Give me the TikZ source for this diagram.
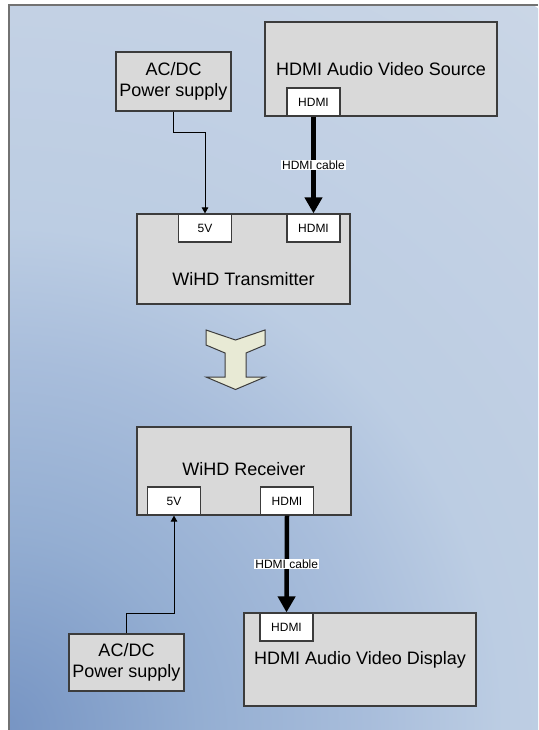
\documentclass[tikz,border=0pt]{standalone}
\usepackage{fontspec}
\setmainfont{Liberation Sans}
\usetikzlibrary{arrows.meta}

\definecolor{boxgrey}{HTML}{D9D9D9}
\definecolor{edgegrey}{HTML}{3C3C3C}
\definecolor{arrowfill}{HTML}{E8EAD5}
\definecolor{framegrey}{HTML}{727272}
\definecolor{bgA}{HTML}{7694C3}
\definecolor{bgB}{HTML}{94AED2}
\definecolor{bgC}{HTML}{A8BDDB}
\definecolor{bgD}{HTML}{BCCDE3}
\definecolor{bgE}{HTML}{C3D1E4}
\definecolor{bgF}{HTML}{CAD6E6}

\pgfdeclareradialshading{backdrop}{\pgfpointorigin}{%
    color(0bp)=(bgA); color(5.5bp)=(bgB); color(10.2bp)=(bgC);
    color(14bp)=(bgD); color(20bp)=(bgE); color(25bp)=(bgF); color(50bp)=(bgF)}

\tikzset{
    device/.style = {
        draw=edgegrey,
        fill=boxgrey,
        line width=1.2pt,
        font=\fontsize{18}{21.5}\selectfont,
        align=center,
        inner sep=0pt
    },
    devicetext/.style = {
        font=\fontsize{18}{21.5}\selectfont,
        inner sep=0pt
    },
    port/.style = {
        draw=edgegrey,
        fill=white,
        line width=1.2pt,
        minimum width=53pt,
        minimum height=28pt,
        font=\fontsize{12}{14}\selectfont,
        inner sep=0pt
    },
    power/.style = {
        line width=0.9pt,
        -{Triangle[length=6pt, width=6.5pt]}
    },
    cable/.style = {
        line width=4.5pt,
        -{Triangle[length=16pt, width=17pt]}
    },
    cablelabel/.style = {
        fill=white,
        inner sep=1pt,
        font=\fontsize{12}{14}\selectfont
    },
    bigarrow/.style = {
        draw=edgegrey,
        fill=arrowfill,
        line width=1pt,
        line join=miter
    },
    frame/.style = {
        draw=framegrey,
        line width=2pt
    }
}

\begin{document}
\begin{tikzpicture}[x=1pt, y=-1pt]
    \useasboundingbox (0,0) rectangle (538,730);

    % Draw background
    \begin{scope}
        \clip (9,5) rectangle (538,730);
        \shade[shading=backdrop] (0,730) circle (900pt);
    \end{scope}
    \draw[frame] (9,730) -- (9,5) -- (538,5);

    % Draw transmitter side
    \node[device, minimum width=115pt, minimum height=59pt] (supplyA) at (173.5,81.5) {AC/DC\\Power supply};
    \node[device, minimum width=232pt, minimum height=94pt] (source) at (381,69) {HDMI Audio Video Source};
    \node[port] (sourcehdmi) at (313.5,102) {HDMI};
    \node[device, minimum width=213pt, minimum height=90pt] (tx) at (243.5,259) {};
    \node[devicetext] (txtext) at (243.5,279) {WiHD Transmitter};
    \node[port] (tx5v) at (205,228) {5V};
    \node[port] (txhdmi) at (313.5,228) {HDMI};

    \draw[power] (supplyA.south) -- ++(0,21) -| (tx5v.north);
    \draw[cable] (sourcehdmi.south) -- node[cablelabel] (cableAtext) {HDMI cable} (txhdmi.north);

    % Draw big arrow
    \draw[bigarrow] (206,330) -- (206,345) -- (225,353) -- (225,377) -- (206,377) -- (235.5,389.5)
        -- (265,377) -- (246,377) -- (246,353) -- (265,345) -- (265,330) -- (235.5,340) -- cycle;

    % Draw receiver side
    \node[device, minimum width=214pt, minimum height=88pt] (rx) at (244,471) {};
    \node[devicetext] (rxtext) at (244,469) {WiHD Receiver};
    \node[port] (rx5v) at (174,501) {5V};
    \node[port] (rxhdmi) at (287,501) {HDMI};
    \node[device, minimum width=115pt, minimum height=57pt] (supplyB) at (126.5,662.5) {AC/DC\\Power supply};
    \node[device, minimum width=232pt, minimum height=93pt] (display) at (360,659.5) {HDMI Audio Video Display};
    \node[port] (displayhdmi) at (286.5,627) {HDMI};

    \draw[power] (supplyB.north) -- ++(0,-20) -| (rx5v.south);
    \draw[cable] (rxhdmi.south) -- node[cablelabel] (cableBtext) {HDMI cable} (displayhdmi.north);
\end{tikzpicture}
\end{document}
